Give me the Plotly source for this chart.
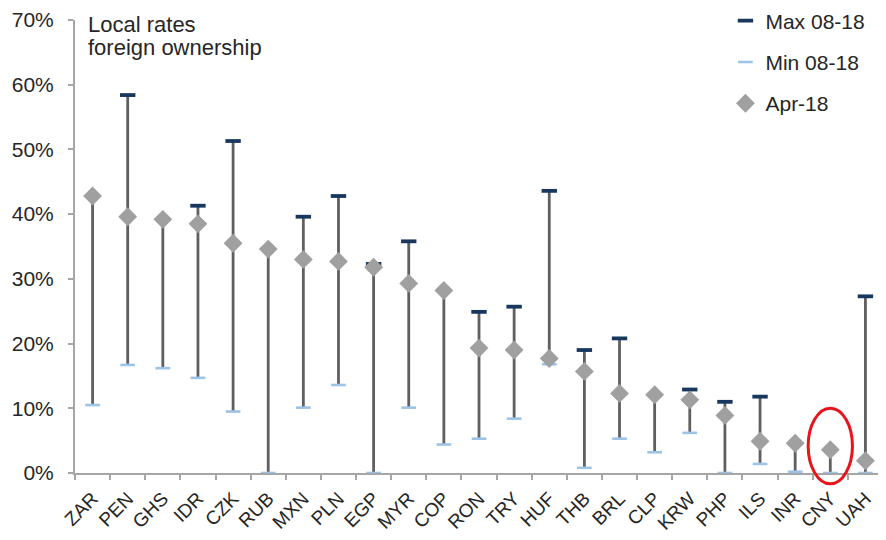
import plotly.graph_objects as go

categories = ["ZAR", "PEN", "GHS", "IDR", "CZK", "RUB", "MXN", "PLN", "EGP", "MYR", "COP", "RON",
              "TRY", "HUF", "THB", "BRL", "CLP", "KRW", "PHP", "ILS", "INR", "CNY", "UAH"]
max_0818 = [None, 58.4, None, 41.3, 51.3, None, 39.6, 42.8, 32.3, 35.8, None, 24.9,
            25.7, 43.6, 19.0, 20.8, None, 12.9, 11.0, 11.8, None, None, 27.3]
min_0818 = [10.5, 16.7, 16.2, 14.7, 9.5, 0.0, 10.1, 13.6, 0.0, 10.1, 4.4, 5.3,
            8.4, 16.8, 0.8, 5.3, 3.2, 6.2, 0.0, 1.4, 0.2, 0.0, 0.0]
apr_18 = [42.8, 39.6, 39.2, 38.5, 35.5, 34.6, 33.0, 32.7, 31.8, 29.3, 28.2, 19.3,
          19.0, 17.7, 15.7, 12.3, 12.1, 11.3, 8.9, 4.9, 4.6, 3.6, 1.9]
highlight = "CNY"
title_lines = ["Local rates", "foreign ownership"]
y_ticks = [0, 10, 20, 30, 40, 50, 60, 70]
y_tick_labels = ["0%", "10%", "20%", "30%", "40%", "50%", "60%", "70%"]

FONT = "Liberation Sans, Arial, sans-serif"
TXT = "#262626"

# vertical range segments (min to max, or to Apr-18 when the max equals it)
seg_x, seg_y = [], []
for c, mx, mn, ap in zip(categories, max_0818, min_0818, apr_18):
    top = mx if mx is not None else ap
    seg_x += [c, c, None]
    seg_y += [mn, top, None]

fig = go.Figure()
fig.add_trace(go.Scatter(x=seg_x, y=seg_y, mode="lines", line=dict(color="#5f5f5f", width=2.8),
                         showlegend=False, hoverinfo="skip"))
fig.add_trace(go.Scatter(x=categories, y=max_0818, mode="markers", name="Max 08-18",
                         marker=dict(symbol="line-ew", size=11, line=dict(color="#17375e", width=3.8)),
                         legendgroup="a"))
fig.add_trace(go.Scatter(x=categories, y=min_0818, mode="markers", name="Min 08-18",
                         marker=dict(symbol="line-ew", size=10.5, line=dict(color="#9dc3e6", width=2.6)),
                         legendgroup="b"))
fig.add_trace(go.Scatter(x=categories, y=apr_18, mode="markers", name="Apr-18",
                         marker=dict(symbol="diamond", size=14.5, color="#a0a0a0"),
                         legendgroup="c"))

ci = categories.index(highlight)
fig.add_shape(type="circle", xref="x", yref="paper", x0=ci - 0.63, x1=ci + 0.63,
              y0=-0.024, y1=0.143, line=dict(color="#e8141b", width=3), fillcolor="rgba(0,0,0,0)")

for i, line in enumerate(title_lines):
    fig.add_annotation(text=line, xref="paper", yref="paper",
                       x=0.014, y=0.99 - i * 0.05, xanchor="left", yanchor="middle",
                       showarrow=False, align="left",
                       font=dict(family=FONT, size=22, color=TXT))

# page body has an 8px default margin, so the figure is sized 8px smaller each way
fig.update_layout(
    width=878, height=532,
    margin=dict(l=67, r=3, t=12, b=67, autoexpand=False),
    paper_bgcolor="white", plot_bgcolor="white",
    font=dict(family=FONT, size=16, color=TXT),
    showlegend=True,
    legend=dict(x=0.805, y=1.043, xanchor="left", yanchor="top", bgcolor="rgba(0,0,0,0)",
                tracegroupgap=11, traceorder="grouped", font=dict(family=FONT, size=21, color=TXT),
                itemwidth=30),
)
fig.update_xaxes(type="category", categoryorder="array", categoryarray=categories,
                 range=[-0.5, len(categories) - 0.5], automargin=False,
                 showline=True, linecolor="#a6a6a6", linewidth=2,
                 ticks="outside", tickson="boundaries", ticklen=5, tickcolor="#a6a6a6", tickwidth=2,
                 ticklabelstandoff=5,
                 tickangle=-45, tickfont=dict(family=FONT, size=19, color=TXT), showgrid=False)
fig.update_yaxes(range=[0, 70], tickvals=y_ticks, ticktext=y_tick_labels, automargin=False,
                 showline=True, linecolor="#a6a6a6", linewidth=2,
                 ticks="outside", ticklen=5, tickcolor="#a6a6a6", tickwidth=2,
                 ticklabelstandoff=10,
                 tickfont=dict(family=FONT, size=21, color=TXT), showgrid=False, zeroline=False)

fig.write_html("out.html")
